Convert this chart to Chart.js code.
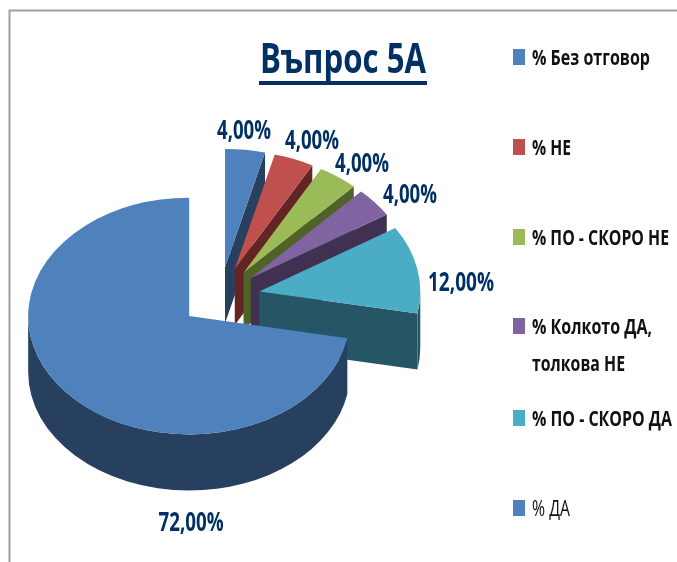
<!DOCTYPE html>
<html lang="bg"><head><meta charset="utf-8">
<style>html,body{margin:0;padding:0;background:#fff}canvas{display:block}</style>
<script src="https://cdn.jsdelivr.net/npm/chart.js@4"></script></head>
<body><canvas id="c" width="677" height="562"></canvas>
<script>
const chartTitle = 'Въпрос 5А';
const categories = ['% Без отговор','% НЕ','% ПО - СКОРО НЕ','% Колкото ДА, толкова НЕ','% ПО - СКОРО ДА','% ДА'];
const legendLines = [['% Без отговор'],['% НЕ'],['% ПО - СКОРО НЕ'],['% Колкото ДА,','толкова НЕ'],['% ПО - СКОРО ДА'],['% ДА']];
const values = [4,4,4,4,12,72];
const topColors = ['#4F81BD','#C0504D','#9BBB59','#8064A2','#4BACC6','#4F81BD'];
const sideColors = ['#27405F','#632523','#4F6228','#403152','#265665','#27405F'];

const FONT = '"Open Sans","Liberation Sans",sans-serif';
const NAVY = '#003064';
const SQUASH = 0.735, DEPTH = 56, EXPLODE_X = 40, EXPLODE_Y = 30;
const labelSpots = [[244,132,54],[312,142,54],[362,165,54],[410,196,54],[461,284,66],[191,524,65]];
const legendSwatchY = [49,139,229,318,410,500];
const legendWidths = [[118],[39],[137],[120,93],[140],[38]];

function drawWalls(ctx,a,ox,oy,color){
  const R=a.outerRadius, cx=a.x+ox, cy=a.y+oy;
  const px=t=>cx+R*Math.cos(t), py=t=>cy+R*SQUASH*Math.sin(t);
  ctx.fillStyle=color;
  const quad=t=>{
    ctx.beginPath(); ctx.moveTo(cx,cy); ctx.lineTo(px(t),py(t));
    ctx.lineTo(px(t),py(t)+DEPTH); ctx.lineTo(cx,cy+DEPTH); ctx.closePath(); ctx.fill();
  };
  if(Math.cos(a.startAngle)<-1e-6) quad(a.startAngle);
  if(Math.cos(a.endAngle)>1e-6) quad(a.endAngle);
  // outer wall: only the part of the rim that faces the viewer
  const TAU=Math.PI*2;
  for(const k of [-1,0,1]){
    const s=Math.max(a.startAngle,k*TAU), e=Math.min(a.endAngle,k*TAU+Math.PI);
    if(e>s){
      ctx.beginPath();
      ctx.ellipse(cx,cy,R,R*SQUASH,0,s,e);
      ctx.ellipse(cx,cy+DEPTH,R,R*SQUASH,0,e,s,true);
      ctx.closePath(); ctx.fill();
    }
  }
}

const pie3d = {
  id:'pie3d',
  beforeDatasetDraw(){ return false; },
  beforeDraw(chart){
    const ctx = chart.ctx;
    ctx.save();
    ctx.fillStyle='#fff'; ctx.fillRect(0,0,chart.width,chart.height);
    ctx.strokeStyle='#a0a0a0'; ctx.lineWidth=2;
    ctx.beginPath(); ctx.moveTo(9.5,562); ctx.lineTo(9.5,10.5); ctx.lineTo(677,10.5); ctx.stroke();
    ctx.restore();
  },
  afterDatasetsDraw(chart){
    const ctx = chart.ctx, arcs = chart.getDatasetMeta(0).data;
    arcs.forEach((a,i)=>{
      const mid=(a.startAngle+a.endAngle)/2;
      const ox=EXPLODE_X*Math.cos(mid), oy=EXPLODE_Y*Math.sin(mid);
      ctx.save();
      drawWalls(ctx,a,ox,oy,sideColors[i]);
      ctx.translate(a.x+ox,a.y+oy); ctx.scale(1,SQUASH); ctx.translate(-a.x,-a.y);
      a.draw(ctx);
      ctx.restore();
    });
    // data labels
    ctx.save();
    ctx.fillStyle=NAVY; ctx.textAlign='center'; ctx.textBaseline='middle';
    ctx.font='bold 26px '+FONT;
    values.forEach((v,i)=>{
      const s=labelSpots[i];
      ctx.fillText(v.toFixed(2).replace('.',',')+'%',s[0],s[1],s[2]);
    });
    // title
    ctx.font='bold 42px '+FONT; ctx.textAlign='left';
    ctx.fillText(chartTitle,260,61,166);
    ctx.fillRect(259,81,168,4);
    // legend
    legendLines.forEach((lines,i)=>{
      ctx.fillStyle=topColors[i];
      ctx.fillRect(513,legendSwatchY[i],12,16);
      ctx.fillStyle='#111';
      ctx.font=(i===5?'':'bold ')+'21px '+FONT;
      lines.forEach((t,j)=>ctx.fillText(t,532,legendSwatchY[i]+10+j*37,legendWidths[i][j]));
    });
    ctx.restore();
  }
};

new Chart(document.getElementById('c'),{
  type:'pie',
  data:{labels:categories,datasets:[{data:values,backgroundColor:topColors,borderWidth:0}]},
  options:{
    responsive:false,animation:false,radius:161,
    layout:{padding:{left:0,right:237,top:32,bottom:0}},
    plugins:{legend:{display:false},title:{display:false},tooltip:{enabled:false}}
  },
  plugins:[pie3d]
});
</script></body></html>
